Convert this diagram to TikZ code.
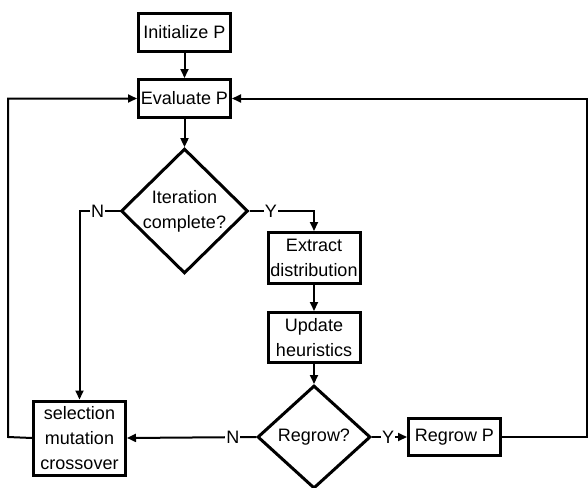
\documentclass[tikz,border=0pt]{standalone}
\usepackage{fontspec}
\setmainfont{Liberation Sans}
\usetikzlibrary{arrows.meta}
\usetikzlibrary{shapes.geometric}

\begin{document}
\begin{tikzpicture}[
    x=1pt, y=1pt,
    line/.style={->, >={Triangle[length=9pt, width=8pt]}, line width=2pt},
    stepbox/.style={draw, line width=3pt, rectangle, align=center, inner sep=0pt, minimum width=92pt},
    decision/.style={draw, line width=3pt, diamond, align=center, inner sep=0pt},
    yn/.style={fill=white, inner sep=1pt},
    every node/.style={font=\fontsize{18}{25}\selectfont}
    ]
    \useasboundingbox (0,0) rectangle (588,-487);

    % steps and decisions
    \node[stepbox, minimum height=38pt] (init) at (184.5,-32.5) {Initialize P};
    \node[stepbox, minimum height=38pt] (eval) at (184.5,-98.5) {Evaluate P};
    \node[decision, minimum width=127pt, minimum height=115pt] (iter) at (184.5,-211) {Iteration\\complete?};
    \node[stepbox, minimum height=51pt] (extract) at (314,-258) {Extract\\distribution};
    \node[stepbox, minimum height=50pt] (update) at (314,-337.5) {Update\\heuristics};
    \node[decision, minimum width=113pt, minimum height=103pt] (regrow) at (314,-437) {Regrow?};
    \node[stepbox, minimum height=74pt] (sel) at (79.5,-438) {selection\\mutation\\crossover};
    \node[stepbox, minimum height=37pt] (regrowp) at (454.5,-437) {Regrow P};

    % loop corners
    \coordinate (lft) at (8,-437);
    \coordinate (rgt) at (587,-437);

    % connectors
    \draw[line] (init) -- (eval);
    \draw[line] (eval) -- (iter);
    \draw[line] (iter.east) -| node[yn, pos=0.165] {Y} (extract.north);
    \draw[line] (iter.west) -| node[yn, pos=0.275] {N} (sel.north);
    \draw[line] (extract) -- (update);
    \draw[line] (update) -- (regrow);
    \draw[line] (regrow.west) -- node[yn, pos=0.18] {N} (sel.east);
    \draw[line] (regrow.east) -- node[yn, pos=0.46] {Y} (regrowp.west);
    \draw[line] (regrowp.east) -- (rgt) |- (eval.east);
    \draw[line] (sel.west) -- (lft) |- (eval.west);
\end{tikzpicture}
\end{document}
